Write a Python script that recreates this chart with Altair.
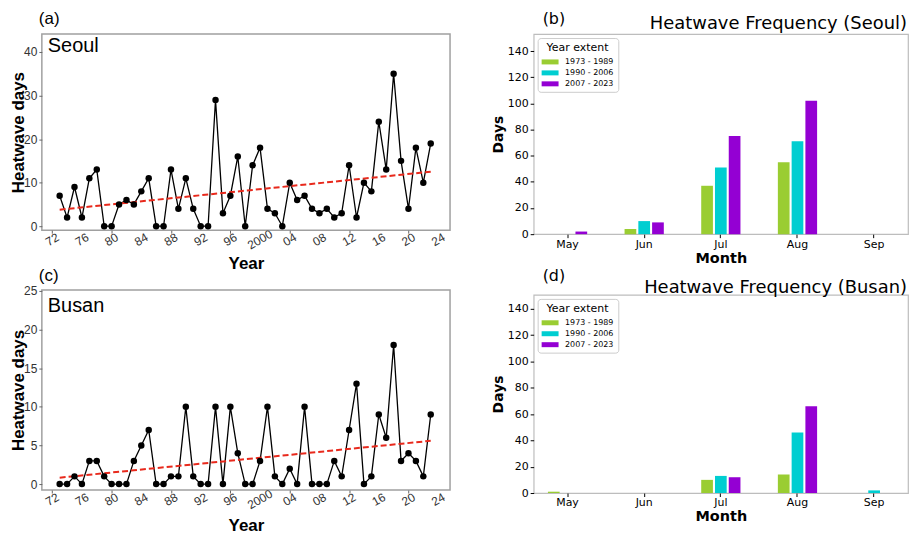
import altair as alt
import pandas as pd

# ---------------- data ----------------
years = list(range(1973, 2024))
seoul_days = [7, 2, 9, 2, 11, 13, 0, 0, 5, 6,
              5, 8, 11, 0, 0, 13, 4, 11, 4, 0,
              0, 29, 3, 7, 16, 0, 14, 18, 4, 3,
              0, 10, 6, 7, 4, 3, 4, 2, 3, 14,
              2, 10, 8, 24, 13, 35, 15, 4, 18, 10,
              19]
busan_days = [0, 0, 1, 0, 3, 3, 1, 0, 0, 0,
              3, 5, 7, 0, 0, 1, 1, 10, 1, 0,
              0, 10, 0, 10, 4, 0, 0, 3, 10, 1,
              0, 2, 0, 10, 0, 0, 0, 3, 1, 7,
              13, 0, 1, 9, 6, 18, 3, 4, 3, 1,
              9]

year_ticks = [1972, 1976, 1980, 1984, 1988, 1992, 1996, 2000,
              2004, 2008, 2012, 2016, 2020, 2024]
year_tick_labels = ["72", "76", "80", "84", "88", "92", "96", "2000",
                    "04", "08", "12", "16", "20", "24"]

months = ["May", "Jun", "Jul", "Aug", "Sep"]
periods = ["1973 - 1989", "1990 - 2006", "2007 - 2023"]
period_colors = ["#9acd32", "#00ced1", "#9400d3"]

seoul_1973_1989 = [0, 4, 37, 55, 0]
seoul_1990_2006 = [0, 10, 51, 71, 0]
seoul_2007_2023 = [2, 9, 75, 102, 0]
busan_1973_1989 = [1, 0, 10, 14, 0]
busan_1990_2006 = [0, 0, 13, 46, 2]
busan_2007_2023 = [0, 0, 12, 66, 0]

LFONT = "Liberation Sans"
RFONT = "DejaVu Sans"
BAR_W = 376


def line_panel(values, city, tag, ydom, yticks, height, city_y, tag_y, year_pad):
    df = pd.DataFrame({"Year": years, "Days": values})
    base = alt.Chart(df)
    xscale = alt.Scale(domain=[1970.6, 2025.6], nice=False, zero=False)
    x = alt.X(
        "Year:Q",
        scale=xscale,
        axis=alt.Axis(
            values=year_ticks, labels=False,
            tickSize=3, tickColor="#666666", domain=False, grid=False,
            titleFont=LFONT, titleFontSize=17, titleFontWeight="bold",
            titleColor="black", titlePadding=year_pad,
        ),
        title="Year",
    )
    y = alt.Y(
        "Days:Q",
        scale=alt.Scale(domain=ydom, nice=False, zero=False),
        axis=alt.Axis(
            values=yticks, labelFont=LFONT, labelFontSize=12, labelColor="#333333",
            labelPadding=2, tickSize=3, tickColor="#666666", domain=False, grid=False,
            titleFont=LFONT, titleFontSize=17, titleFontWeight="bold",
            titleColor="black", titlePadding=-4,
        ),
        title="Heatwave days",
    )
    line = base.mark_line(color="black", strokeWidth=1.3).encode(x=x, y=y)
    pts = base.mark_circle(color="black", size=42, opacity=1).encode(x=x, y=y)
    trend = base.transform_regression("Year", "Days").mark_line(
        color="#e8291c", strokeDash=[6, 3], strokeWidth=2
    ).encode(x="Year:Q", y="Days:Q")
    xlabels = alt.Chart(pd.DataFrame({"tick": year_ticks, "lab": year_tick_labels})).mark_text(
        align="center", baseline="middle", angle=330, font=LFONT, fontSize=12, color="#333333"
    ).encode(x=alt.X("tick:Q", scale=xscale), text="lab:N", y=alt.value(height + 9.5))
    city_text = alt.Chart(pd.DataFrame({"t": [city]})).mark_text(
        align="left", baseline="middle", font=LFONT, fontSize=20, color="black"
    ).encode(text="t:N", x=alt.value(6), y=alt.value(city_y))
    tag_text = alt.Chart(pd.DataFrame({"t": [tag]})).mark_text(
        align="left", baseline="middle", font=LFONT, fontSize=17, color="black"
    ).encode(text="t:N", x=alt.value(-3), y=alt.value(tag_y))
    return alt.layer(line, trend, pts, xlabels, city_text, tag_text).properties(
        width=410, height=height)


def bar_panel(vals, city, tag, ydom, height, tag_y, title_y):
    df = pd.DataFrame({
        "Month": months * 3,
        "Period": [p for p in periods for _ in months],
        "Days": vals[0] + vals[1] + vals[2],
    })
    bars = alt.Chart(df).mark_bar().encode(
        x=alt.X(
            "Month:N", sort=months,
            scale=alt.Scale(paddingInner=0.488, paddingOuter=0.186),
            axis=alt.Axis(
                labelAngle=0, labelFont=RFONT, labelFontSize=11, labelColor="black",
                tickSize=3.5, tickColor="black", domain=False, grid=False, labelPadding=0.5,
                titleFont=RFONT, titleFontSize=14.5, titleFontWeight="bold",
                titleColor="black", titlePadding=2,
            ),
            title="Month",
        ),
        xOffset=alt.XOffset("Period:N", sort=periods, scale=alt.Scale(paddingInner=0.15)),
        y=alt.Y(
            "Days:Q",
            scale=alt.Scale(domain=ydom, nice=False, zero=True),
            axis=alt.Axis(
                values=list(range(0, 141, 20)), labelFont=RFONT, labelFontSize=11,
                labelColor="black", tickSize=3.5, tickColor="black", domain=False,
                grid=False, labelPadding=2,
                titleFont=RFONT, titleFontSize=14, titleFontWeight="bold",
                titleColor="black", titlePadding=2,
            ),
            title="Days",
        ),
        color=alt.Color(
            "Period:N", sort=periods,
            scale=alt.Scale(domain=periods, range=period_colors),
            legend=alt.Legend(
                title="Year extent", orient="top-left", offset=4, padding=4,
                fillColor="white", strokeColor="#cccccc", cornerRadius=3,
                titleFont=RFONT, titleFontSize=11, titleFontWeight="normal",
                titleColor="black", titleAnchor="middle", titlePadding=4,
                labelFont=RFONT, labelFontSize=8, labelColor="black",
                symbolType="M-1.7,-0.5L1.7,-0.5L1.7,0.5L-1.7,0.5Z", symbolSize=100,
                symbolStrokeWidth=0, symbolOpacity=1, symbolOffset=3.5,
                labelOffset=10, rowPadding=2,
            ),
        ),
    )
    tag_text = alt.Chart(pd.DataFrame({"t": [tag]})).mark_text(
        align="left", baseline="middle", font=RFONT, fontSize=16, color="black"
    ).encode(text="t:N", x=alt.value(9), y=alt.value(tag_y))
    title_text = alt.Chart(pd.DataFrame({"t": [f"Heatwave Frequency ({city})"]})).mark_text(
        align="right", baseline="alphabetic", font=RFONT, fontSize=18, color="black"
    ).encode(text="t:N", x=alt.value(BAR_W - 1), y=alt.value(title_y))
    return alt.layer(bars, tag_text, title_text).properties(
        width=BAR_W, height=height,
        view=alt.ViewBackground(stroke="#bdbdbd", strokeWidth=1.2),
    )


pa = line_panel(seoul_days, "Seoul", "(a)", [-0.91, 44.11], [0, 10, 20, 30, 40], 197,
                12, -15, 22)
pc = line_panel(busan_days, "Busan", "(c)", [-0.77, 25.13], [0, 5, 10, 15, 20, 25], 201,
                16, -13.5, 24)
pb = bar_panel([seoul_1973_1989, seoul_1990_2006, seoul_2007_2023], "Seoul", "(b)",
               [0, 153], 201, -15, -5)
pd_ = bar_panel([busan_1973_1989, busan_1990_2006, busan_2007_2023], "Busan", "(d)",
                [0, 150.6], 199, -18.5, -2)

left = alt.vconcat(pa, pc, spacing=60, bounds="flush")
right = alt.vconcat(pb, pd_, spacing=61, bounds="flush").resolve_scale(
    color="independent").resolve_legend(color="independent")

chart = alt.hconcat(left, right, spacing=39).properties(
    padding={"left": 0, "top": 0, "right": 0, "bottom": 0}
).configure_view(stroke="#a0a0a0", strokeWidth=1.5).configure_axis(grid=False)

chart.save("out.html", embed_options={"renderer": "svg", "actions": False})
